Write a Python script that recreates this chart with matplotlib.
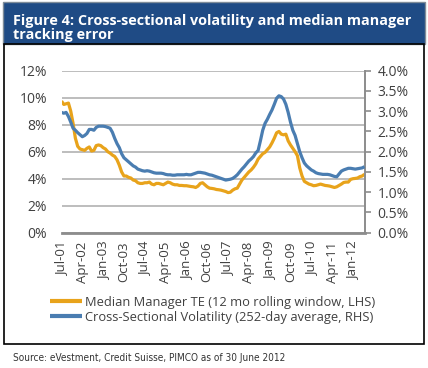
import matplotlib
matplotlib.use("Agg")
import matplotlib.pyplot as plt
from matplotlib.patches import Rectangle
from matplotlib.ticker import FuncFormatter, MultipleLocator
from matplotlib import font_manager as fm
import numpy as np
import pandas as pd

# ---------------- data ----------------
start_month = "2001-07"
tick_labels = ["Jul-01", "Apr-02", "Jan-03", "Oct-03", "Jul-04", "Apr-05", "Jan-06",
               "Oct-06", "Jul-07", "Apr-08", "Jan-09", "Oct-09", "Jul-10", "Apr-11", "Jan-12"]

# Median Manager TE (12 mo rolling window, LHS), % - monthly Jul-01 .. Jun-12
median_te = [
    9.75, 9.50, 9.55, 9.60, 9.00, 8.10, 7.00, 6.40, 6.20, 6.15,
    6.10, 6.25, 6.35, 6.05, 6.10, 6.45, 6.50, 6.45, 6.30, 6.20,
    6.00, 5.90, 5.75, 5.65, 5.40, 5.00, 4.50, 4.20, 4.20, 4.10,
    4.05, 3.90, 3.85, 3.70, 3.65, 3.65, 3.70, 3.70, 3.75, 3.60,
    3.55, 3.65, 3.65, 3.60, 3.55, 3.65, 3.75, 3.70, 3.60, 3.55,
    3.55, 3.50, 3.50, 3.48, 3.48, 3.45, 3.42, 3.40, 3.35, 3.45,
    3.65, 3.70, 3.55, 3.40, 3.30, 3.28, 3.25, 3.20, 3.18, 3.15,
    3.10, 3.05, 2.97, 3.00, 3.15, 3.25, 3.30, 3.60, 3.90, 4.10,
    4.30, 4.50, 4.65, 4.85, 5.10, 5.45, 5.65, 5.85, 5.95, 6.15,
    6.35, 6.65, 7.00, 7.40, 7.50, 7.30, 7.25, 7.30, 6.80, 6.50,
    6.25, 6.00, 5.70, 4.80, 4.20, 3.80, 3.70, 3.60, 3.55, 3.48,
    3.50, 3.55, 3.60, 3.55, 3.50, 3.48, 3.45, 3.40, 3.35, 3.40,
    3.50, 3.60, 3.72, 3.75, 3.75, 3.95, 4.00, 4.02, 4.05, 4.15,
    4.20, 4.33,
]

# Cross-Sectional Volatility (252-day average, RHS), %
cross_vol = [
    2.97, 2.95, 2.97, 2.87, 2.73, 2.58, 2.53, 2.47, 2.42, 2.37,
    2.40, 2.45, 2.55, 2.55, 2.53, 2.60, 2.63, 2.63, 2.63, 2.62,
    2.60, 2.58, 2.48, 2.33, 2.20, 2.10, 1.95, 1.85, 1.80, 1.75,
    1.70, 1.65, 1.62, 1.57, 1.55, 1.53, 1.52, 1.53, 1.52, 1.50,
    1.48, 1.47, 1.47, 1.47, 1.46, 1.44, 1.43, 1.43, 1.42, 1.42,
    1.43, 1.43, 1.43, 1.43, 1.44, 1.43, 1.43, 1.45, 1.47, 1.49,
    1.49, 1.48, 1.47, 1.45, 1.43, 1.42, 1.40, 1.38, 1.36, 1.34,
    1.32, 1.30, 1.31, 1.32, 1.34, 1.38, 1.43, 1.50, 1.57, 1.63,
    1.70, 1.77, 1.82, 1.88, 1.97, 2.03, 2.27, 2.53, 2.70, 2.80,
    2.92, 3.03, 3.17, 3.32, 3.38, 3.36, 3.30, 3.17, 2.97, 2.73,
    2.53, 2.40, 2.20, 2.00, 1.85, 1.72, 1.65, 1.60, 1.55, 1.52,
    1.48, 1.46, 1.45, 1.44, 1.44, 1.44, 1.43, 1.41, 1.39, 1.38,
    1.45, 1.52, 1.55, 1.57, 1.59, 1.59, 1.58, 1.57, 1.58, 1.59,
    1.60, 1.63,
]

series_names = ["Median Manager TE (12 mo rolling window, LHS)",
                "Cross-Sectional Volatility (252-day average, RHS)"]
title_lines = ["Figure 4: Cross-sectional volatility and median manager",
               "tracking error"]
source_text = "Source: eVestment, Credit Suisse, PIMCO as of 30 June 2012"

# ---------------- figure ----------------
W, H = 428, 368
fig = plt.figure(figsize=(W / 100, H / 100), dpi=100)
fig.patch.set_facecolor("white")

def fx(px):
    return px / W

def fy(py):
    return 1 - py / H

FONT = ["Open Sans", "DejaVu Sans"]
TXT = "#404040"
YEL = "#E8A31B"
BLU = "#4A7DB1"

# pick a condensed face for the source line if one is installed
src_props = dict(family=["Open Sans", "DejaVu Sans"])
for fam, stretch in [("Liberation Sans Narrow", "normal"), ("DejaVu Sans", "condensed")]:
    try:
        p = fm.FontProperties(family=fam, stretch=stretch)
        path = fm.findfont(p, fallback_to_default=False)
        if ("Narrow" in path) or ("Condensed" in path):
            src_props = dict(family=[fam], stretch=stretch)
            break
    except Exception:
        pass

# title band
fig.patches.append(Rectangle((fx(3), fy(44)), fx(422), 42 / H, transform=fig.transFigure,
                             facecolor="#1F4B85", edgecolor="#7F8C99", lw=1.0, zorder=0))
# chart box
fig.patches.append(Rectangle((fx(4), fy(344)), fx(420), 300 / H, transform=fig.transFigure,
                             facecolor="none", edgecolor="black", lw=1.2, zorder=0))

t1 = fig.text(fx(13), fy(25), title_lines[0], color="white", fontsize=10, fontweight="bold",
              family=FONT, va="baseline", ha="left")
t2 = fig.text(fx(13), fy(39.5), title_lines[1], color="white", fontsize=10, fontweight="bold",
              family=FONT, va="baseline", ha="left")
src = fig.text(fx(13), fy(361), source_text, color="#333333", fontsize=8,
               va="baseline", ha="left", **src_props)

# axes
x_left, x_right = 61.5, 364.5
y_top, y_bot = 70.7, 232.7
ax = fig.add_axes([fx(x_left), fy(y_bot), (x_right - x_left) / W, (y_bot - y_top) / H])
ax2 = ax.twinx()

n = len(median_te)
x = np.arange(n)
l1, = ax.plot(x, median_te, color=YEL, lw=2.3, solid_capstyle="butt", zorder=3)
l2, = ax2.plot(x, cross_vol, color=BLU, lw=2.3, solid_capstyle="butt", zorder=3)

ax.set_xlim(0, n - 1)
ax.set_ylim(0, 12)
ax2.set_ylim(0, 4)
ax.yaxis.set_major_locator(MultipleLocator(2))
ax2.yaxis.set_major_locator(MultipleLocator(0.5))
ax.yaxis.set_major_formatter(FuncFormatter(lambda v, p: f"{v:.0f}%"))
ax2.yaxis.set_major_formatter(FuncFormatter(lambda v, p: f"{v:.1f}%"))

start = pd.Period(start_month, freq="M")
tick_pos = [(pd.Period(pd.to_datetime(lbl, format="%b-%y"), freq="M") - start).n for lbl in tick_labels]
ax.set_xticks(tick_pos)
ax.set_xticklabels(tick_labels, rotation=90, va="top", ha="center")

ax.grid(axis="y", color="#BDBDBD", lw=1.4, zorder=0)
ax.set_axisbelow(True)
for s in ["left", "top", "right"]:
    ax.spines[s].set_visible(False)
for s in ["left", "top", "bottom"]:
    ax2.spines[s].set_visible(False)
ax.spines["bottom"].set_color("#8C8C8C")
ax.spines["bottom"].set_linewidth(2.0)
ax2.spines["right"].set_color("#8C8C8C")
ax2.spines["right"].set_linewidth(1.4)

ax.tick_params(axis="y", length=0, pad=10.4, labelsize=10, labelcolor=TXT)
ax.tick_params(axis="x", length=0, pad=6.5, labelsize=9.5, labelcolor=TXT)
ax2.tick_params(axis="y", length=4, width=1.2, color="#8C8C8C", pad=5.5, labelsize=10, labelcolor=TXT)
for lab in ax.get_xticklabels() + ax.get_yticklabels() + ax2.get_yticklabels():
    lab.set_family(FONT)

leg = fig.legend([l1, l2], series_names, loc="upper left",
                 bbox_to_anchor=(fx(50), fy(296)), frameon=False,
                 prop={"family": FONT, "size": 10}, handlelength=2.3, handletextpad=0.2,
                 labelspacing=0.15, borderpad=0.0, borderaxespad=0.0)
for h in leg.legend_handles:
    h.set_linewidth(3.0)
for t in leg.get_texts():
    t.set_color(TXT)

# fit text widths to the reference
fig.canvas.draw()
r = fig.canvas.get_renderer()

def fit(t, target):
    w = t.get_window_extent(r).width
    t.set_fontsize(t.get_fontsize() * target / w)

fit(t1, 399)
t2.set_fontsize(t1.get_fontsize())
fit(src, 270)
lt = leg.get_texts()
fit(lt[0], 290)
lt[1].set_fontsize(lt[0].get_fontsize())

fig.savefig("out.png", dpi=100, facecolor="white")
